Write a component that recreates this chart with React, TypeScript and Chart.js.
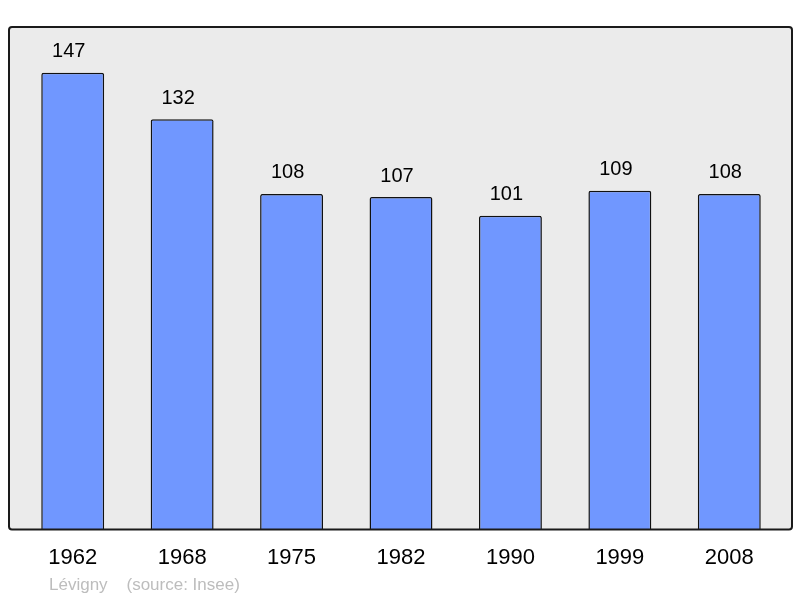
import React, { useEffect, useRef } from "react";
import { Chart, registerables, Plugin } from "chart.js";

Chart.register(...registerables);

const years = ["1962", "1968", "1975", "1982", "1990", "1999", "2008"];
const population = [147, 132, 108, 107, 101, 109, 108];
const yMax = 161.7;
const footerText = "Lévigny    (source: Insee)";

// grey frame behind the bars, a bit wider than the category area
const framePlugin: Plugin<"bar"> = {
  id: "frame",
  beforeDraw(chart) {
    const { ctx, chartArea } = chart;
    const x0 = chartArea.left - 9;
    const x1 = chartArea.right + 8;
    const y0 = chartArea.top;
    const y1 = chartArea.bottom;
    ctx.save();
    ctx.beginPath();
    ctx.roundRect(x0, y0, x1 - x0, y1 - y0, 3);
    ctx.fillStyle = "#ebebeb";
    ctx.fill();
    ctx.restore();
  },
  afterDatasetsDraw(chart) {
    const { ctx, chartArea } = chart;
    const x0 = chartArea.left - 9;
    const x1 = chartArea.right + 8;
    ctx.save();
    ctx.beginPath();
    ctx.roundRect(x0, chartArea.top, x1 - x0, chartArea.bottom - chartArea.top, 3);
    ctx.lineWidth = 2;
    ctx.strokeStyle = "#1a1a1a";
    ctx.stroke();

    // value labels above bars (sit slightly left of centre in the original)
    ctx.fillStyle = "#000";
    ctx.font = "20px 'Liberation Sans', Arial, sans-serif";
    ctx.textAlign = "center";
    ctx.textBaseline = "middle";
    chart.getDatasetMeta(0).data.forEach((bar, i) => {
      ctx.fillText(String(population[i]), bar.x - 4, bar.y - 21);
    });

    // footer
    ctx.fillStyle = "#bdbdbd";
    ctx.font = "17px 'Liberation Sans', Arial, sans-serif";
    ctx.textAlign = "left";
    ctx.fillText(footerText, 49, 585);
    ctx.restore();
  },
};

const PopulationChart: React.FC = () => {
  const canvasRef = useRef<HTMLCanvasElement>(null);

  useEffect(() => {
    if (!canvasRef.current) return;
    const ctx = canvasRef.current.getContext("2d")!;

    const chart = new Chart(ctx, {
      type: "bar",
      data: {
        labels: years,
        datasets: [
          {
            data: population,
            backgroundColor: "#7097ff",
            borderColor: "#111",
            borderWidth: 1.5,
            borderRadius: 2,
            borderSkipped: "bottom",
            barPercentage: 0.575,
            categoryPercentage: 1,
          },
        ],
      },
      options: {
        responsive: true,
        maintainAspectRatio: false,
        animation: false,
        layout: { padding: { left: 18, right: 16, top: 27, bottom: 12 } },
        plugins: {
          legend: { display: false },
          tooltip: { enabled: false },
        },
        scales: {
          x: {
            grid: { display: false, drawTicks: false },
            border: { display: false },
            ticks: {
              color: "#000",
              padding: 15,
              font: { family: "'Liberation Sans', Arial, sans-serif", size: 22 },
            },
          },
          y: { display: false, min: 0, max: yMax },
        },
      },
      plugins: [framePlugin],
    });

    return () => {
      chart.destroy();
    };
  }, []);

  return <canvas ref={canvasRef}></canvas>;
};

export default function App() {
  return (
    <div style={{ position: "fixed", left: 0, top: 0, width: 800, height: 598, background: "#fff" }}>
      <PopulationChart />
    </div>
  );
}
